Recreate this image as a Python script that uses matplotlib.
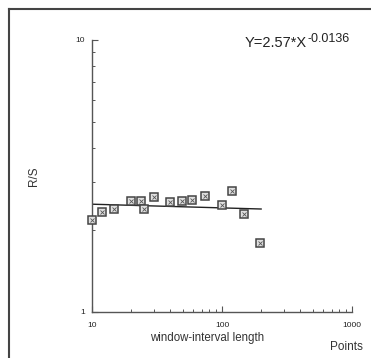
import matplotlib
matplotlib.use("Agg")
import matplotlib.pyplot as plt
from matplotlib.lines import Line2D
import numpy as np

plt.rcParams['font.family'] = ['Liberation Sans', 'DejaVu Sans']
plt.rcParams['mathtext.default'] = 'regular'

window = [10, 12.0, 14.7, 19.8, 23.7, 25.1, 30.0, 39.6, 49.3, 58.9, 74.2, 99.3, 119, 147, 197]
rs = [2.17, 2.33, 2.40, 2.55, 2.56, 2.40, 2.65, 2.54, 2.56, 2.59, 2.66, 2.48, 2.79, 2.29, 1.80]
fit_a = 2.57
fit_b = -0.0136
fit_range = [10, 200]
xticks = [10, 100, 1000]
xticklabels = ['10', '100', '1000']
yticks = [1, 10]
yticklabels = ['1', '10']

fig = plt.figure(figsize=(3.71, 3.58), dpi=100)
ax = fig.add_axes([92/371, 46/358, 260/371, 272/358])
ax.set_xscale('log')
ax.set_yscale('log')
ax.set_xlim(10, 1000)
ax.set_ylim(1, 10)

fx = np.array(fit_range, dtype=float)
ax.plot(fx, fit_a * fx ** fit_b, color='#222222', lw=1.0, zorder=2)
ax.plot(window, rs, ls='none', marker='s', ms=5.5, mfc='#e0e0e0', mec='#444444', mew=1.1, zorder=3, clip_on=False)
ax.plot(window, rs, ls='none', marker='x', ms=2.5, mec='#555555', mew=0.6, zorder=4, clip_on=False)

for s in ['top', 'right']:
    ax.spines[s].set_visible(False)
for s in ['left', 'bottom']:
    ax.spines[s].set_color('#555555')
    ax.spines[s].set_linewidth(1.0)

ax.set_xticks(xticks)
ax.set_xticklabels(xticklabels)
ax.set_yticks(yticks)
ax.set_yticklabels(yticklabels)
ax.tick_params(axis='both', which='major', direction='in', length=4, width=0.8, colors='#555555',
               labelsize=6, labelcolor='#222222')
ax.tick_params(axis='both', which='minor', direction='in', length=2, width=0.7, colors='#555555')
ax.tick_params(axis='x', which='major', pad=7.5)
ax.tick_params(axis='y', which='major', pad=5)
ax.xaxis.set_minor_formatter(matplotlib.ticker.NullFormatter())
ax.yaxis.set_minor_formatter(matplotlib.ticker.NullFormatter())

fig.text(207/371, 1 - 341/358, 'window-interval length', ha='center', va='baseline', fontsize=8.3, color='#333333')
fig.text(346/371, 1 - 350/358, 'Points', ha='center', va='baseline', fontsize=8.5, color='#333333')
fig.text(34/371, 1 - 176/358, 'R/S', ha='center', va='center', rotation=90, fontsize=8.5, color='#333333')
fig.text(245/371, 1 - 47/358, 'Y=2.57*X', ha='left', va='baseline', fontsize=10.5, color='#222222')
fig.text(308/371, 1 - 42/358, '-0.0136', ha='left', va='baseline', fontsize=9, color='#222222')

fig.add_artist(Line2D([9/371, 1.0], [1 - 9/358, 1 - 9/358], transform=fig.transFigure, color='#444444', lw=1.5))
fig.add_artist(Line2D([9/371, 9/371], [0.0, 1 - 9/358], transform=fig.transFigure, color='#444444', lw=1.5))

fig.savefig('out.png', dpi=100)
